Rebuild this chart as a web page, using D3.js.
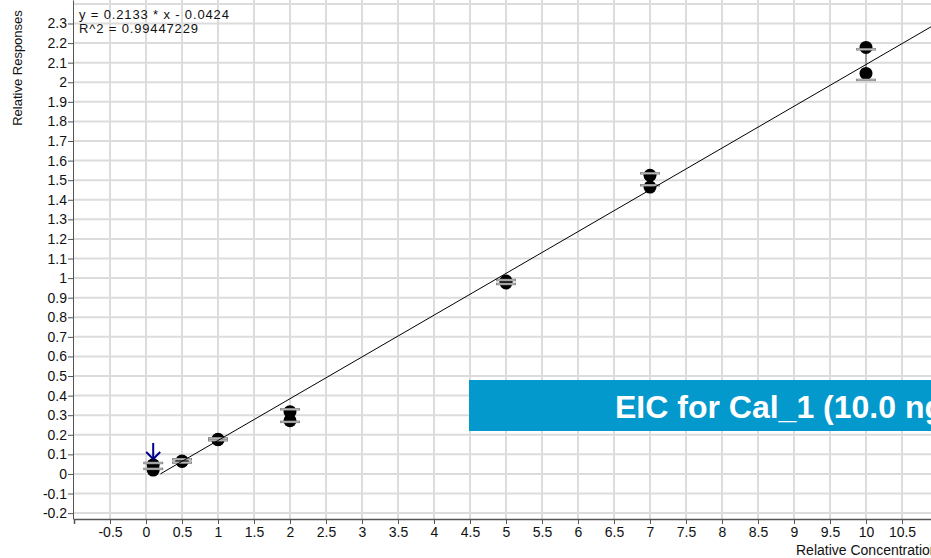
<!DOCTYPE html>
<html>
<head>
<meta charset="utf-8">
<script src="https://cdn.jsdelivr.net/npm/d3@7"></script>
<style>
  body { margin: 0; background: #fff; overflow: hidden; }
  svg { display: block; font-family: "Liberation Sans", Arial, sans-serif; }
</style>
</head>
<body>
<div id="chart"></div>
<script>
// Calibration levels and the replicate responses.
const levels = [0.1, 0.5, 1, 2, 5, 7, 10];
const responsesA = [0.047, 0.066, 0.177, 0.318, 0.985, 1.525, 2.178];
const responsesB = [0.02, 0.064, 0.175, 0.272, 0.975, 1.465, 2.045];
const capHigh = [0.056, 0.075, 0.182, 0.33, 0.99, 1.535, 2.168];
const capLow = [0.026, 0.058, 0.172, 0.266, 0.97, 1.474, 2.012];

// Fit line.
const slope = 0.2133;
const intercept = -0.0424;
const fitStart = 0.2;
const fitEnd = 11;

// Tick labels.
const xTicks = [-0.5, 0, 0.5, 1, 1.5, 2, 2.5, 3, 3.5, 4, 4.5, 5, 5.5, 6, 6.5, 7, 7.5, 8, 8.5, 9, 9.5, 10, 10.5];
const yTicks = [-0.2, -0.1, 0, 0.1, 0.2, 0.3, 0.4, 0.5, 0.6, 0.7, 0.8, 0.9, 1, 1.1, 1.2, 1.3, 1.4, 1.5, 1.6, 1.7, 1.8, 1.9, 2, 2.1, 2.2, 2.3];
const gridY = yTicks.concat([2.4]);
const gridX = xTicks.concat([11]);

const equationText = ["y = 0.2133 * x  - 0.0424", "R^2 = 0.99447229"];
const bannerText = "EIC for Cal_1 (10.0 ng/mL)";

const W = 931, H = 558;

// Plain hyphen for negatives, as in the reference.
const fmt = d => String(d);

let svg = d3.select("#chart")
    .append("svg")
    .attr("width", W)
    .attr("height", H);

// Scales.
let x = d3.scaleLinear().domain([-1, 11]).range([74, 938]);
let y = d3.scaleLinear().domain([-0.23, 2.42]).range([519, 0]);

// Gridlines.
svg.append("g")
    .selectAll("line")
    .data(gridX)
    .enter().append("line")
    .attr("x1", d => x(d)).attr("x2", d => x(d))
    .attr("y1", y(2.42)).attr("y2", y(-0.23))
    .attr("stroke", "#dcdcdc")
    .attr("stroke-width", 2);

svg.append("g")
    .selectAll("line")
    .data(gridY)
    .enter().append("line")
    .attr("x1", x(-1)).attr("x2", W)
    .attr("y1", d => y(d)).attr("y2", d => y(d))
    .attr("stroke", "#dcdcdc")
    .attr("stroke-width", 2);

// Y axis.
let yAxis = svg.append("g")
    .attr("transform", `translate(${x(-1) - 1},0)`)
    .call(d3.axisLeft(y).tickValues(yTicks).tickSize(5).tickSizeOuter(0).tickFormat(fmt));
yAxis.select(".domain").attr("stroke", "#555");
yAxis.selectAll(".tick line").attr("stroke", "#555");
yAxis.selectAll("text")
    .attr("x", -6)
    .style("font-size", "14px")
    .style("font-family", "Liberation Sans, Arial, sans-serif")
    .attr("fill", "#111");

// X axis.
let xAxis = svg.append("g")
    .attr("transform", `translate(0,${y(-0.23)})`)
    .call(d3.axisBottom(x).tickValues(xTicks).tickSize(5).tickSizeOuter(5).tickFormat(fmt));
xAxis.select(".domain").attr("stroke", "#555").attr("stroke-width", 1.5);
xAxis.selectAll(".tick line").attr("stroke", "#555");
xAxis.selectAll("text")
    .attr("y", 8)
    .style("font-size", "14px")
    .style("font-family", "Liberation Sans, Arial, sans-serif")
    .attr("fill", "#111");

// Axis titles.
svg.append("text")
    .attr("transform", "rotate(-90)")
    .attr("x", -68)
    .attr("y", 22)
    .attr("text-anchor", "middle")
    .style("font-size", "13px")
    .attr("fill", "#111")
    .text("Relative Responses");

svg.append("text")
    .attr("x", 796)
    .attr("y", 555)
    .style("font-size", "14px")
    .attr("fill", "#111")
    .text("Relative Concentration");

// Error bars.
let err = svg.append("g");
levels.forEach((lv, i) => {
    err.append("line")
        .attr("x1", x(lv)).attr("x2", x(lv))
        .attr("y1", y(capHigh[i])).attr("y2", y(capLow[i]))
        .attr("stroke", "#999").attr("stroke-width", 2);
});

// Points.
let pts = svg.append("g");
[responsesA, responsesB].forEach(series => {
    pts.selectAll(null)
        .data(levels.map((lv, i) => [lv, series[i]]))
        .enter().append("ellipse")
        .attr("cx", d => x(d[0]))
        .attr("cy", d => y(d[1]))
        .attr("rx", 6.5)
        .attr("ry", 6.5)
        .attr("fill", "#000");
});

// Caps drawn over the points.
let caps = svg.append("g");
levels.forEach((lv, i) => {
    [capHigh[i], capLow[i]].forEach(v => {
        caps.append("line")
            .attr("x1", x(lv) - 10).attr("x2", x(lv) + 10)
            .attr("y1", y(v)).attr("y2", y(v))
            .attr("stroke", "#888").attr("stroke-width", 2.5);
        caps.append("line")
            .attr("x1", x(lv) - 9).attr("x2", x(lv) + 9)
            .attr("y1", y(v)).attr("y2", y(v))
            .attr("stroke", "#cfcfcf").attr("stroke-width", 0.8);
    });
});

// Fit line.
let line = d3.line().x(d => x(d)).y(d => y(slope * d + intercept));
svg.append("path")
    .datum([fitStart, fitEnd])
    .attr("d", line)
    .attr("fill", "none")
    .attr("stroke", "#000")
    .attr("stroke-width", 1);

// Blue arrow over the first level.
let ax = x(levels[0]);
let aTop = y(capHigh[0]) - 20;
let aTip = y(capHigh[0]) - 4;
svg.append("line")
    .attr("x1", ax).attr("x2", ax)
    .attr("y1", aTop).attr("y2", aTip)
    .attr("stroke", "#00008b").attr("stroke-width", 2);
svg.append("path")
    .attr("d", `M${ax - 7},${aTip - 7}L${ax},${aTip}L${ax + 7},${aTip - 7}`)
    .attr("fill", "none")
    .attr("stroke", "#00008b").attr("stroke-width", 2);

// Equation text.
svg.selectAll(".eq")
    .data(equationText)
    .enter().append("text")
    .attr("class", "eq")
    .attr("x", 79)
    .attr("y", (d, i) => 19 + i * 14)
    .style("font-size", "13px")
    .style("letter-spacing", "0.85px")
    .attr("fill", "#111")
    .text(d => d);

// Overlay banner.
svg.append("rect")
    .attr("x", 469).attr("y", 380)
    .attr("width", 500).attr("height", 51)
    .attr("fill", "#0399cc");
svg.append("text")
    .attr("x", 615)
    .attr("y", 418)
    .style("font-size", "32px")
    .style("font-weight", "bold")
    .attr("fill", "#fff")
    .text(bannerText);
</script>
</body>
</html>
